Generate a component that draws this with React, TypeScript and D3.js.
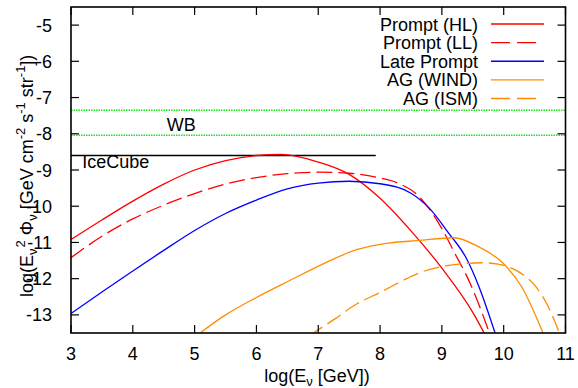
import * as d3 from 'd3';
import React, { useEffect, useRef } from 'react';

// axis ticks
const xTicks = [3, 4, 5, 6, 7, 8, 9, 10, 11];
const yTicks = [-5, -6, -7, -8, -9, -10, -11, -12, -13];

// curves: log(E) and log(E^2 Phi)
const hlLogE = [3, 3.5, 4, 4.5, 5, 5.5, 6, 6.4, 7, 7.5, 8, 8.5, 9, 9.5, 9.7];
const hlFlux = [-10.92, -10.38, -9.86, -9.39, -9.0, -8.74, -8.6, -8.57, -8.78, -9.12, -9.78, -10.68, -11.71, -12.93, -13.55];

const llLogE = [3, 3.5, 4, 4.5, 5, 5.5, 6, 6.5, 7, 7.5, 8, 8.3, 8.6, 9, 9.2, 9.46, 9.6, 9.78];
const llFlux = [-11.42, -10.83, -10.35, -9.97, -9.65, -9.39, -9.21, -9.1, -9.06, -9.09, -9.22, -9.37, -9.68, -10.62, -11.27, -12.14, -12.72, -13.55];

const lateLogE = [3, 3.5, 4, 4.5, 5, 5.5, 6, 6.5, 7, 7.5, 8, 8.5, 8.8, 9.1, 9.4, 9.6, 9.87];
const lateFlux = [-12.96, -12.37, -11.79, -11.22, -10.67, -10.2, -9.83, -9.52, -9.36, -9.31, -9.38, -9.64, -10.06, -10.72, -11.45, -12.22, -13.55];

const windLogE = [5.05, 5.5, 6, 6.54, 7.08, 7.62, 8.16, 8.6, 9.2, 9.57, 10, 10.3, 10.62, 10.7];
const windFlux = [-13.55, -13.0, -12.52, -12.05, -11.59, -11.2, -11.01, -10.95, -10.87, -11.1, -11.59, -12.25, -13.43, -13.75];

const ismLogE = [6.85, 6.92, 7.27, 7.62, 8.0, 8.43, 8.65, 9.02, 9.38, 9.65, 9.91, 10.23, 10.53, 10.72, 10.86, 10.92];
const ismFlux = [-13.58, -13.5, -13.11, -12.7, -12.38, -12.0, -11.83, -11.66, -11.58, -11.56, -11.6, -11.8, -12.24, -12.77, -13.32, -13.6];

// limits
const wbUpper = -7.35;
const wbLower = -8.04;
const iceCubeLevel = -8.6;
const iceCubeEnd = 7.93;

const legendNames = ['Prompt (HL)', 'Prompt (LL)', 'Late Prompt', 'AG (WIND)', 'AG (ISM)'];
const legendColors = ['#ff0000', '#ff0000', '#0000ff', '#ff8c00', '#ff8c00'];
const legendDashed = [false, true, false, false, true];

export default function App() {
  const svgRef = useRef<SVGSVGElement>(null);
  const width = 578;
  const height = 388;

  useEffect(() => {
    const svg = d3.select(svgRef.current);
    svg.selectAll('*').remove();

    const left = 71;
    const right = 565.5;
    const top = 7;
    const bottom = 333;
    const font = '"Liberation Sans", Arial, sans-serif';
    const fs = '18px';
    const fsSmall = '13px';

    const x = d3.scaleLinear().domain([3, 11]).range([left, right]);
    const y = d3.scaleLinear().domain([-13.5, -4.5]).range([bottom, top]);

    svg.append('defs')
      .append('clipPath')
      .attr('id', 'plotClip')
      .append('rect')
      .attr('x', left)
      .attr('y', top)
      .attr('width', right - left)
      .attr('height', bottom - top);

    // WB band (dotted green)
    [wbUpper, wbLower].forEach((v) => {
      svg.append('line')
        .attr('x1', left).attr('x2', right)
        .attr('y1', y(v)).attr('y2', y(v))
        .attr('stroke', '#1ee01e')
        .attr('stroke-width', 1.5)
        .attr('stroke-dasharray', '1.5,1');
    });

    svg.append('text')
      .attr('x', x(4.55))
      .attr('y', y(-7.93))
      .style('font-family', font)
      .style('font-size', fs)
      .text('WB');

    // IceCube limit
    svg.append('line')
      .attr('x1', x(3)).attr('x2', x(iceCubeEnd))
      .attr('y1', y(iceCubeLevel)).attr('y2', y(iceCubeLevel))
      .attr('stroke', 'black')
      .attr('stroke-width', 1.3);

    svg.append('text')
      .attr('x', x(3.18))
      .attr('y', y(-8.95))
      .style('font-family', font)
      .style('font-size', fs)
      .text('IceCube');

    // curves
    const line = d3.line<[number, number]>()
      .x((d) => x(d[0]))
      .y((d) => y(d[1]))
      .curve(d3.curveMonotoneX);

    const curves = [
      { e: hlLogE, f: hlFlux, color: legendColors[0], dashed: legendDashed[0] },
      { e: llLogE, f: llFlux, color: legendColors[1], dashed: legendDashed[1] },
      { e: lateLogE, f: lateFlux, color: legendColors[2], dashed: legendDashed[2] },
      { e: windLogE, f: windFlux, color: legendColors[3], dashed: legendDashed[3] },
      { e: ismLogE, f: ismFlux, color: legendColors[4], dashed: legendDashed[4] },
    ];

    const g = svg.append('g').attr('clip-path', 'url(#plotClip)');
    curves.forEach((c) => {
      const pts = c.e.map((v, i) => [v, c.f[i]] as [number, number]);
      g.append('path')
        .attr('d', line(pts))
        .attr('fill', 'none')
        .attr('stroke', c.color)
        .attr('stroke-width', 1.3)
        .attr('stroke-dasharray', c.dashed ? '16,6' : null);
    });

    // frame
    svg.append('rect')
      .attr('x', left).attr('y', top)
      .attr('width', right - left).attr('height', bottom - top)
      .attr('fill', 'none')
      .attr('stroke', 'black')
      .attr('stroke-width', 1.6);

    const tickLen = 8;
    xTicks.forEach((t) => {
      svg.append('line')
        .attr('x1', x(t)).attr('x2', x(t))
        .attr('y1', bottom).attr('y2', bottom - tickLen)
        .attr('stroke', 'black').attr('stroke-width', 1.2);
      svg.append('line')
        .attr('x1', x(t)).attr('x2', x(t))
        .attr('y1', top).attr('y2', top + tickLen)
        .attr('stroke', 'black').attr('stroke-width', 1.2);
      svg.append('text')
        .attr('x', x(t))
        .attr('y', 360)
        .attr('text-anchor', 'middle')
        .style('font-family', font)
        .style('font-size', fs)
        .text(t);
    });

    yTicks.forEach((t) => {
      svg.append('line')
        .attr('x1', left).attr('x2', left + tickLen)
        .attr('y1', y(t)).attr('y2', y(t))
        .attr('stroke', 'black').attr('stroke-width', 1.2);
      svg.append('line')
        .attr('x1', right).attr('x2', right - tickLen)
        .attr('y1', y(t)).attr('y2', y(t))
        .attr('stroke', 'black').attr('stroke-width', 1.2);
      svg.append('text')
        .attr('x', 52)
        .attr('y', y(t) + 6.5)
        .attr('text-anchor', 'end')
        .style('font-family', font)
        .style('font-size', fs)
        .text(t);
    });

    // axis titles
    const xt = svg.append('text')
      .attr('x', 317)
      .attr('y', 382)
      .attr('text-anchor', 'middle')
      .style('font-family', font)
      .style('font-size', fs);
    xt.append('tspan').text('log(E');
    xt.append('tspan').attr('dy', 4).style('font-size', fsSmall).text('ν');
    xt.append('tspan').attr('dy', -4).text(' [GeV])');

    const yt = svg.append('text')
      .attr('transform', 'translate(33,297) rotate(-90)')
      .attr('text-anchor', 'start')
      .style('font-family', font)
      .style('font-size', fs);
    yt.append('tspan').text('log(E');
    yt.append('tspan').attr('dy', 4).style('font-size', fsSmall).text('ν');
    yt.append('tspan').attr('dy', -12).attr('dx', 1).style('font-size', fsSmall).text('2');
    yt.append('tspan').attr('dy', 8).text(' Φ');
    yt.append('tspan').attr('dy', 4).style('font-size', fsSmall).text('ν');
    yt.append('tspan').attr('dy', -4).text(' [GeV cm');
    yt.append('tspan').attr('dy', -8).style('font-size', fsSmall).text('-2');
    yt.append('tspan').attr('dy', 8).text(' s');
    yt.append('tspan').attr('dy', -8).style('font-size', fsSmall).text('-1');
    yt.append('tspan').attr('dy', 8).text(' str');
    yt.append('tspan').attr('dy', -8).style('font-size', fsSmall).text('-1');
    yt.append('tspan').attr('dy', 8).text('])');

    // legend
    const rowY = d3.scaleLinear().domain([0, 4]).range([24, 98.5]);
    legendNames.forEach((name, i) => {
      svg.append('text')
        .attr('x', 478)
        .attr('y', rowY(i) + 6.5)
        .attr('text-anchor', 'end')
        .style('font-family', font)
        .style('font-size', fs)
        .text(name);
      svg.append('line')
        .attr('x1', 491).attr('x2', legendDashed[i] ? 538 : 544)
        .attr('y1', rowY(i)).attr('y2', rowY(i))
        .attr('stroke', legendColors[i])
        .attr('stroke-width', 1.3)
        .attr('stroke-dasharray', legendDashed[i] ? '19,7' : null);
    });
  }, []);

  return (
    <svg
      ref={svgRef}
      width={width}
      height={height}
      style={{ position: 'absolute', left: 0, top: 0, background: 'white' }}
    />
  );
}
